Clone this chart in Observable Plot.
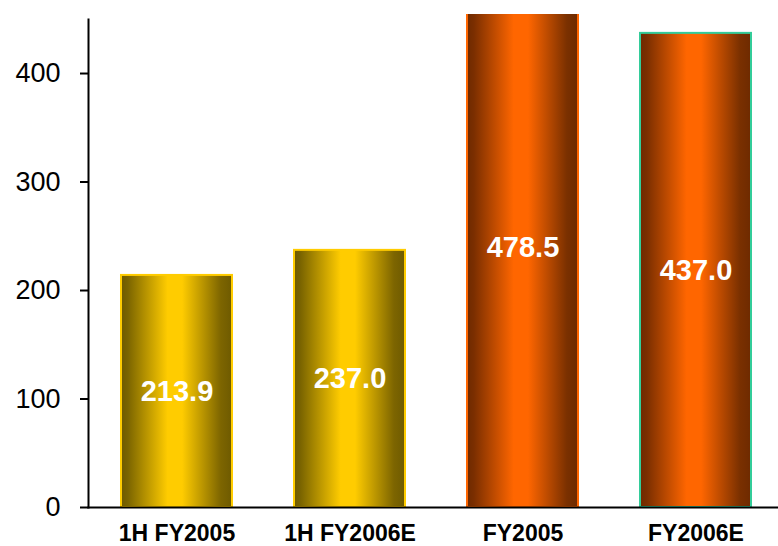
<!DOCTYPE html>
<html><head><meta charset="utf-8">
<script src="https://cdn.jsdelivr.net/npm/d3@7"></script>
<script src="https://cdn.jsdelivr.net/npm/@observablehq/plot@0.6"></script>
<style>body{margin:0;background:#fff}</style>
</head><body><div id="chart"></div>
<script>
const categories = ["1H FY2005", "1H FY2006E", "FY2005", "FY2006E"];
const values = [213.9, 237.0, 478.5, 437.0];
const valueLabels = ["213.9", "237.0", "478.5", "437.0"];
const yTicks = [0, 100, 200, 300, 400];
const fills = ["url(#gold)", "url(#gold)", "url(#orange)", "url(#orange)"];
const strokes = ["#FFCC00", "#FFCC00", "#FF6600", "#33CC99"];

const data = categories.map((c, i) => ({category: c, value: values[i], label: valueLabels[i], fill: fills[i], stroke: strokes[i]}));

const plot = Plot.plot({
  width: 778, height: 546,
  marginLeft: 88, marginRight: 0, marginTop: 14, marginBottom: 39,
  style: {fontFamily: "'Liberation Sans', Arial, sans-serif", background: "white", color: "black"},
  x: {domain: categories, range: [88, 784], paddingInner: 0.36, paddingOuter: 0.185, label: null},
  y: {domain: [0, 454.4], label: null},
  color: {type: "identity"},
  marks: [
    Plot.barY(data, {x: "category", y: "value", fill: "fill", stroke: "stroke", strokeWidth: 2, clip: "frame"}),
    Plot.text(data, {x: "category", y: d => d.value / 2, text: "label", fill: "white", fontSize: 29, fontWeight: "bold"}),
    Plot.axisY({ticks: yTicks, tickSize: 8, tickPadding: 20, fontSize: 27, strokeWidth: 2, label: null, tickFormat: d => String(d)}),
    Plot.axisX({tickSize: 0, tickPadding: 17, fontSize: 23, fontWeight: "bold", label: null}),
    Plot.frame({anchor: "left", insetTop: 5, strokeWidth: 2}),
    Plot.frame({anchor: "bottom", strokeWidth: 2})
  ]
});

const svg = d3.select(plot);
const defs = svg.insert("defs", ":first-child");
function grad(id, stops) {
  const g = defs.append("linearGradient").attr("id", id).attr("x1", 0).attr("x2", 1).attr("y1", 0).attr("y2", 0);
  stops.forEach(([o, c]) => g.append("stop").attr("offset", o).attr("stop-color", c));
}
grad("gold", [[0, "#6e5a00"], [0.06, "#7a6400"], [0.42, "#FFCC00"], [0.55, "#FFCC00"], [0.9, "#7d6500"], [1, "#6e5a00"]]);
grad("orange", [[0, "#6e2a00"], [0.06, "#7a2e00"], [0.42, "#FF6600"], [0.55, "#FF6600"], [0.9, "#7a3000"], [1, "#6e2a00"]]);

document.getElementById("chart").appendChild(plot);
</script>
</body></html>
